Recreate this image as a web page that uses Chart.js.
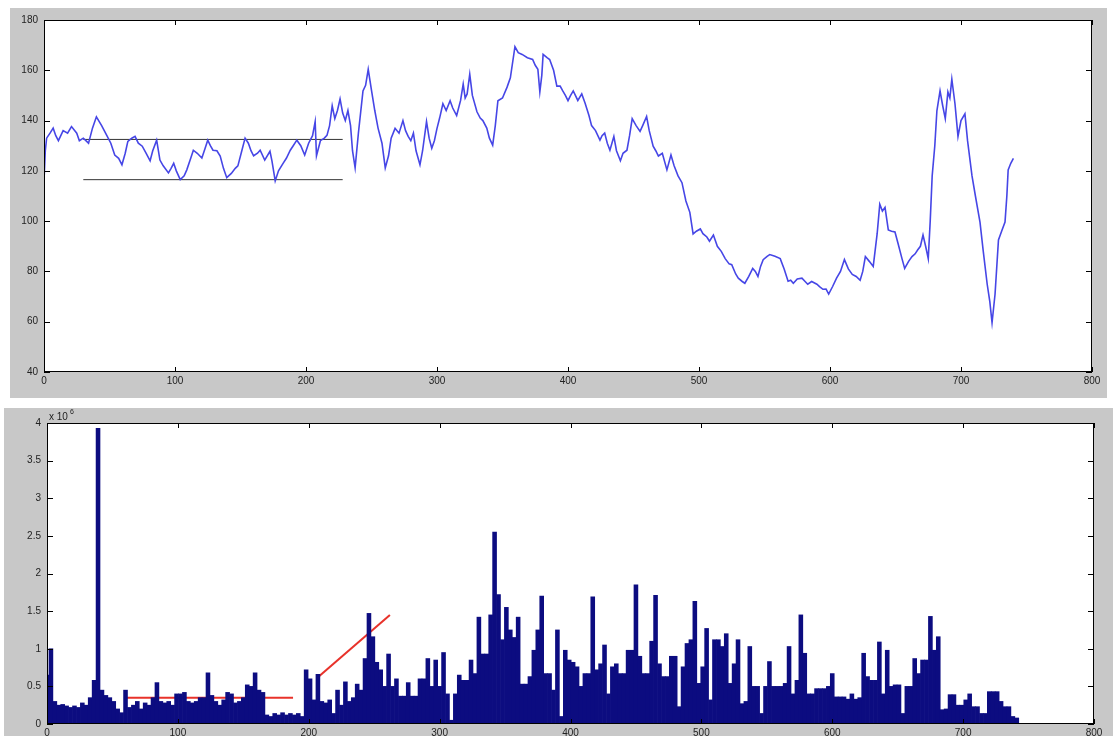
<!DOCTYPE html>
<html>
<head>
<meta charset="utf-8">
<script src="https://cdn.jsdelivr.net/npm/chart.js@4.4.1/dist/chart.umd.min.js"></script>
<style>
  body { margin: 0; background: #fff; width: 1115px; height: 736px; overflow: hidden; position: relative; }
  .panel { position: absolute; background: #c8c8c8; }
  #pricePanel { left: 10px; top: 8px; width: 1097px; height: 390px; }
  #volPanel { left: 4px; top: 408px; width: 1109px; height: 328px; }
</style>
</head>
<body>
<div class="panel" id="pricePanel"><canvas id="priceChart"></canvas></div>
<div class="panel" id="volPanel"><canvas id="volChart"></canvas></div>
<script>
// price series (day index, price)
const priceDays = [0, 1, 2, 4.6, 7, 9, 11, 14.6, 18, 21, 25, 27, 30, 34, 37, 40, 44, 48, 51, 54, 57, 59.5, 62, 64, 67, 69.5, 72, 75, 78, 81, 83, 86, 88.5, 91, 95, 97, 99, 101, 104, 107, 109, 112, 114, 117, 120.5, 123, 125, 127, 129, 132, 134.5, 137, 139.5, 143, 146, 148, 151, 153.5, 156, 158, 160, 163, 165, 168.5, 172.5, 174, 176.5, 179, 182.5, 185, 188, 190, 193, 196, 199, 202, 205, 207, 208, 211, 214, 216, 218, 220, 222, 224, 226, 228, 230, 232, 234, 235.5, 237.5, 240, 243.5, 245.5, 247.5, 250, 252.5, 255, 258, 260.5, 263, 265, 268, 271, 274, 276, 278, 280, 282, 284, 287, 289, 292, 294, 296, 298, 300, 302, 304.5, 307, 310, 312, 315, 318, 320, 321.5, 323, 325, 327, 330.5, 333, 335, 338, 340, 342.5, 344.5, 346.5, 350, 353.5, 356, 359.5, 362, 365, 369, 373, 375, 377, 378.5, 380, 381, 384, 386, 389, 391.5, 394, 396, 398, 400, 402, 404, 407.5, 410.5, 413, 416, 418, 421, 424.4, 426, 428, 430, 432, 435, 437, 440, 442, 445, 447, 449, 452, 455, 457, 460, 462, 465, 467, 469, 472, 475.5, 478.6, 481, 484, 487, 490, 493, 495.5, 498, 501, 503, 506, 508, 511, 514, 517, 520, 523, 525, 528, 530, 533, 535, 538, 541, 543, 545, 547, 549, 552, 554, 558, 562, 565, 568, 570, 572, 575, 578.6, 581, 583, 586, 590, 592, 594.6, 597, 599, 602, 605, 608, 611, 614, 617, 620, 623, 625, 627, 630, 633, 636, 638, 640, 642, 644.5, 647, 649.6, 652, 655, 657, 660, 662.6, 665, 667, 669, 671, 673, 675, 676.5, 678, 680, 681.6, 684, 686, 688, 690, 691.5, 693, 695.4, 697.7, 700, 703, 705, 708.4, 711, 714.5, 717, 720, 722, 723.7, 726, 728.6, 731, 733.6, 735, 736, 738, 740];
const priceValues = [116, 128, 133, 135, 137, 134, 132, 136, 135, 137.6, 135, 132, 133, 131, 137, 141.5, 138, 134, 131, 126.3, 125, 122.4, 127, 131.7, 133, 133.7, 131, 129.8, 127, 124, 128, 132.2, 124.3, 122, 119.2, 121, 123, 120, 116.5, 118, 120.4, 125, 128.2, 127, 125.1, 129, 132.2, 130, 128.2, 128, 125.9, 121, 117.3, 119, 121, 122, 128, 133, 131, 128, 126, 127, 128.2, 124.3, 127.8, 124, 116, 120, 123, 125, 128.2, 129.8, 132.2, 130, 126.3, 131, 134, 139.6, 126, 132, 133, 134.1, 138, 145.9, 140.8, 144, 148.6, 143, 140, 144, 138, 128, 121.2, 135, 151.8, 154, 160.4, 152, 144, 137, 131, 121.2, 126, 133, 136.9, 135, 140, 136, 133.7, 132, 135, 128, 122.4, 128, 139.6, 133, 129, 132, 136.9, 141, 146.7, 144, 147.9, 145, 142, 148, 154.5, 149, 150.6, 158.4, 150, 143.5, 141, 140, 137, 133, 130.2, 138, 147.9, 149, 153.3, 157, 169.4, 167, 166.3, 165, 164.3, 162, 160.4, 151.4, 158, 166.3, 165, 164.3, 160, 153.7, 153.7, 151.8, 150, 147.9, 150, 151.8, 148, 150.6, 147, 142, 138, 136, 132.2, 134, 135, 131, 128.2, 133.7, 128, 124, 127, 128.2, 134, 140.8, 138, 135.7, 138, 141.6, 136, 129.8, 128, 125.9, 127, 120.4, 126.3, 122, 118, 115.3, 108, 103.5, 94.9, 96, 96.9, 95, 93.7, 92, 94.5, 90, 88, 85.1, 83, 82.7, 79, 77.3, 76, 75.3, 78, 81.2, 80, 78, 82, 84.7, 86, 86.7, 86, 85.1, 81, 76.1, 76.5, 75.3, 77, 77.3, 76, 74.9, 76, 74.9, 74, 72.9, 73, 71, 74, 77.3, 80, 84.7, 81, 78.8, 78, 76.5, 80, 85.9, 84, 82, 95, 106.7, 104, 105.5, 96.5, 96, 95.7, 91, 85, 81.2, 84, 85.9, 87, 88.6, 90, 94.5, 90, 85.1, 100, 118, 130, 143.9, 151.8, 146, 140.8, 151.4, 149, 156.5, 146.7, 133.7, 140, 142.7, 132, 118, 110, 99.6, 88, 74.9, 68, 59.6, 71, 92.5, 96, 99.6, 110, 120.4, 123, 125];

// reference levels drawn over the first part of the price series
const upperLevel = [[30, 132.5], [228, 132.5]];
const lowerLevel = [[30, 116.5], [228, 116.5]];

// volume (x 10^6), one bar every 3 days starting at day 0
const volStep = 3;
const volValues = [
  0.65, 1.0, 0.3, 0.25, 0.26, 0.24, 0.22, 0.24, 0.22, 0.28, 0.25, 0.35, 0.58, 3.93, 0.45, 0.38, 0.35, 0.3, 0.2, 0.15,
  0.45, 0.22, 0.25, 0.3, 0.2, 0.28, 0.25, 0.35, 0.55, 0.3, 0.28, 0.3, 0.25, 0.4, 0.4, 0.42, 0.3, 0.28, 0.3, 0.35,
  0.35, 0.68, 0.38, 0.3, 0.25, 0.32, 0.42, 0.4, 0.28, 0.3, 0.35, 0.52, 0.5, 0.68, 0.45, 0.42, 0.12, 0.1, 0.14, 0.12,
  0.15, 0.12, 0.14, 0.12, 0.14, 0.1, 0.72, 0.6, 0.32, 0.66, 0.3, 0.28, 0.32, 0.14, 0.45, 0.25, 0.56, 0.3, 0.35, 0.53,
  0.45, 0.87, 1.47, 1.16, 0.82, 0.72, 0.5, 0.93, 0.5, 0.6, 0.37, 0.37, 0.55, 0.37, 0.37, 0.6, 0.6, 0.87, 0.5, 0.85,
  0.5, 0.95, 0.4, 0.05, 0.4, 0.65, 0.58, 0.58, 0.85, 0.67, 1.42, 0.93, 0.93, 1.45, 2.55, 1.72, 1.12, 1.55, 1.25, 1.15,
  1.42, 0.53, 0.53, 0.63, 0.98, 1.25, 1.7, 0.67, 0.67, 0.45, 1.25, 0.1, 0.98, 0.85, 0.82, 0.76, 0.5, 0.67, 0.67, 1.69,
  0.72, 0.8, 1.05, 0.4, 0.76, 0.8, 0.67, 0.67, 0.98, 0.98, 1.85, 0.9, 0.67, 0.67, 1.1, 1.71, 0.8, 0.63, 0.63, 0.9,
  0.9, 0.23, 0.76, 1.07, 1.12, 1.63, 0.54, 0.76, 1.27, 0.32, 1.12, 1.12, 1.03, 1.2, 0.54, 0.8, 1.12, 0.27, 0.3, 1.03,
  0.5, 0.5, 0.14, 0.5, 0.83, 0.5, 0.5, 0.5, 0.54, 1.03, 0.4, 0.58, 1.45, 0.94, 0.4, 0.4, 0.47, 0.47, 0.47, 0.5,
  0.67, 0.36, 0.36, 0.36, 0.33, 0.4, 0.33, 0.35, 0.94, 0.63, 0.58, 0.58, 1.09, 0.4, 0.98, 0.5, 0.52, 0.52, 0.14, 0.5,
  0.5, 0.87, 0.67, 0.85, 0.85, 1.43, 0.98, 1.16, 0.19, 0.2, 0.39, 0.39, 0.25, 0.25, 0.32, 0.4, 0.23, 0.23, 0.14, 0.14,
  0.43, 0.43, 0.43, 0.3, 0.23, 0.23, 0.1, 0.08
];

// trend marks on the volume panel
const volFlat = [[60, 0.35], [188, 0.35]];
const volRise = [[207, 0.62], [262, 1.45]];

const priceTicks = [40, 60, 80, 100, 120, 140, 160, 180];
const volTicks = [0, 0.5, 1, 1.5, 2, 2.5, 3, 3.5, 4];
const dayTicks = [0, 100, 200, 300, 400, 500, 600, 700, 800];

const FONT = { family: 'Liberation Sans, Arial, sans-serif', size: 10 };
const toPts = arr => arr.map(p => ({ x: p[0], y: p[1] }));

// MATLAB style axes: white plot area, box with inward ticks on all four sides
const boxPlugin = {
  id: 'boxTicks',
  beforeDatasetsDraw(chart) {
    const { ctx, chartArea: a } = chart;
    ctx.save();
    ctx.fillStyle = '#fff';
    ctx.fillRect(a.left, a.top, a.right - a.left, a.bottom - a.top);
    ctx.restore();
  },
  afterDatasetsDraw(chart) {
    const { ctx, chartArea: a, scales: { x, y } } = chart;
    ctx.save();
    ctx.strokeStyle = '#000';
    ctx.lineWidth = 1;
    ctx.strokeRect(a.left + 0.5, a.top + 0.5, a.right - a.left - 1, a.bottom - a.top - 1);
    ctx.beginPath();
    x.ticks.forEach(t => {
      const px = Math.round(x.getPixelForValue(t.value)) + 0.5;
      ctx.moveTo(px, a.bottom); ctx.lineTo(px, a.bottom - 5);
      ctx.moveTo(px, a.top); ctx.lineTo(px, a.top + 5);
    });
    y.ticks.forEach(t => {
      const py = Math.round(y.getPixelForValue(t.value)) + 0.5;
      ctx.moveTo(a.left, py); ctx.lineTo(a.left + 6, py);
      ctx.moveTo(a.right, py); ctx.lineTo(a.right - 6, py);
    });
    ctx.stroke();
    const opts = chart.options.plugins.boxTicks;
    if (opts && opts.exponent) {
      ctx.fillStyle = '#222';
      ctx.font = '10px Liberation Sans, Arial, sans-serif';
      ctx.textBaseline = 'alphabetic';
      ctx.fillText('x 10', a.left + 2, a.top - 3);
      ctx.font = '7px Liberation Sans, Arial, sans-serif';
      ctx.fillText(opts.exponent, a.left + 23, a.top - 9);
    }
    ctx.restore();
  }
};

function xAxis(height) {
  return {
    type: 'linear', min: 0, max: 800, offset: false,
    afterBuildTicks: s => { s.ticks = dayTicks.map(v => ({ value: v })); },
    afterFit: s => { s.height = height; },
    grid: { display: false, drawTicks: false },
    border: { display: false },
    ticks: { color: '#222', font: FONT, padding: 3, maxRotation: 0, autoSkip: false }
  };
}

function yAxis(min, max, ticks, width) {
  return {
    type: 'linear', min: min, max: max,
    afterBuildTicks: s => { s.ticks = ticks.map(v => ({ value: v })); },
    afterFit: s => { s.width = width; },
    grid: { display: false, drawTicks: false },
    border: { display: false },
    ticks: { color: '#222', font: FONT, padding: 6, callback: v => String(v) }
  };
}

new Chart(document.getElementById('priceChart'), {
  type: 'line',
  data: {
    datasets: [
      {
        data: priceDays.map((d, i) => ({ x: d, y: priceValues[i] })),
        borderColor: '#4646e6', borderWidth: 1.6, pointRadius: 0, tension: 0
      },
      { data: toPts(upperLevel), borderColor: '#333', borderWidth: 1, pointRadius: 0 },
      { data: toPts(lowerLevel), borderColor: '#333', borderWidth: 1, pointRadius: 0 }
    ]
  },
  options: {
    responsive: true, maintainAspectRatio: false, animation: false,
    layout: { autoPadding: false, padding: { top: 7, right: 15, left: 0, bottom: 0 } },
    plugins: { legend: { display: false }, tooltip: { enabled: false } },
    scales: { x: xAxis(26), y: yAxis(40, 180, priceTicks, 34) }
  },
  plugins: [boxPlugin]
});

new Chart(document.getElementById('volChart'), {
  type: 'bar',
  data: {
    datasets: [
      {
        data: volValues.map((v, i) => ({ x: i * volStep, y: v })),
        backgroundColor: '#0c0c80', borderWidth: 0,
        barPercentage: 1, categoryPercentage: 1
      },
      { type: 'line', data: toPts(volFlat), borderColor: '#e8322a', borderWidth: 2, pointRadius: 0 },
      { type: 'line', data: toPts(volRise), borderColor: '#e8322a', borderWidth: 2, pointRadius: 0 }
    ]
  },
  options: {
    responsive: true, maintainAspectRatio: false, animation: false,
    layout: { autoPadding: false, padding: { top: 15, right: 19, left: 0, bottom: 0 } },
    plugins: { legend: { display: false }, tooltip: { enabled: false }, boxTicks: { exponent: '6' } },
    scales: { x: xAxis(12), y: yAxis(0, 4, volTicks, 43) }
  },
  plugins: [boxPlugin]
});
</script>
</body>
</html>
